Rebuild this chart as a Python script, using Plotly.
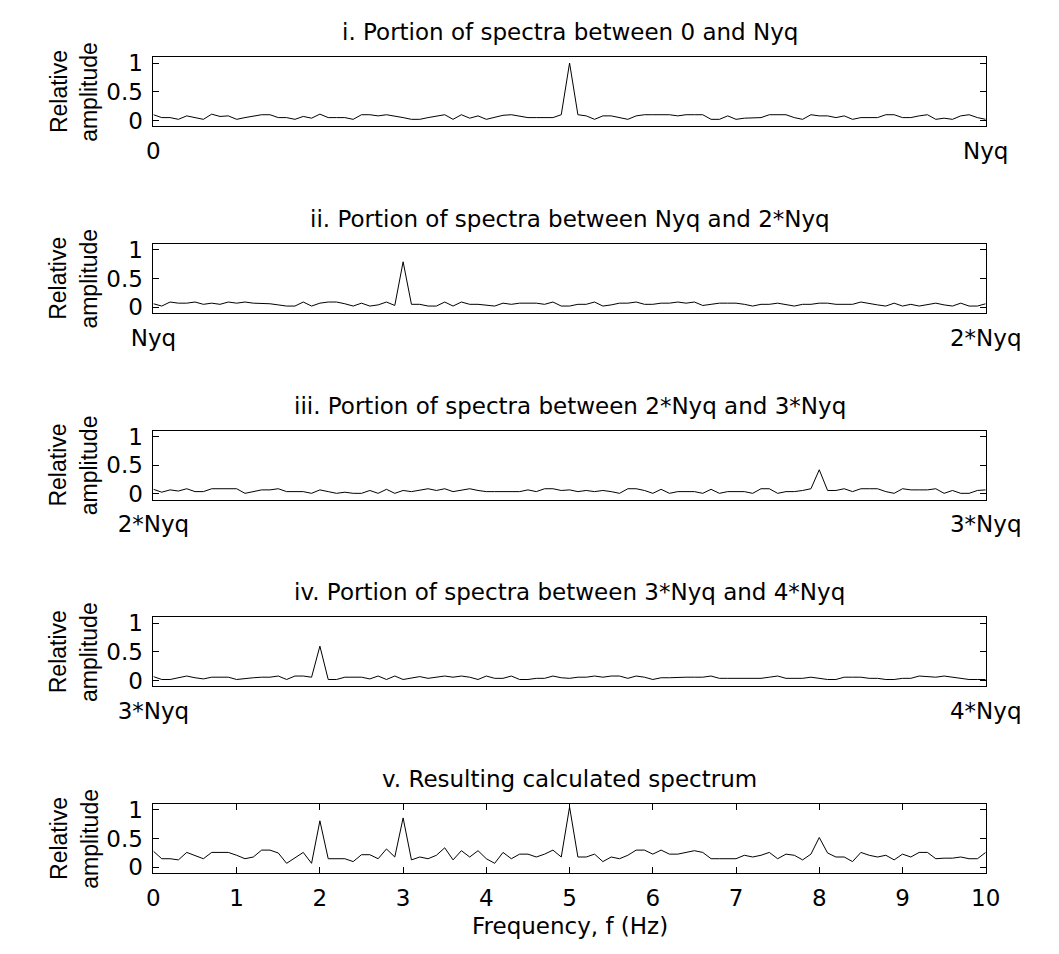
import plotly.graph_objects as go

# ---------------- data ----------------
FREQ_STEP = 0.1
freqs = [round(i * FREQ_STEP, 1) for i in range(101)]

panel_titles = [
    "i. Portion of spectra between 0 and Nyq",
    "ii. Portion of spectra between Nyq and 2*Nyq",
    "iii. Portion of spectra between 2*Nyq and 3*Nyq",
    "iv. Portion of spectra between 3*Nyq and 4*Nyq",
    "v. Resulting calculated spectrum",
]
x_tick_labels = [
    ["0", "Nyq"],
    ["Nyq", "2*Nyq"],
    ["2*Nyq", "3*Nyq"],
    ["3*Nyq", "4*Nyq"],
    ["0", "1", "2", "3", "4", "5", "6", "7", "8", "9", "10"],
]
y_tick_values = [0, 0.5, 1]
y_tick_labels = ["0", "0.5", "1"]
y_label_lines = ["Relative", "amplitude"]
x_label = "Frequency, f (Hz)"

spec_i = [0.10, 0.05, 0.05, 0.02, 0.08, 0.05, 0.02, 0.11, 0.07, 0.08,
          0.02, 0.05, 0.08, 0.10, 0.10, 0.05, 0.05, 0.02, 0.07, 0.04,
          0.11, 0.05, 0.05, 0.05, 0.02, 0.10, 0.10, 0.08, 0.10, 0.08,
          0.05, 0.02, 0.02, 0.05, 0.08, 0.10, 0.02, 0.10, 0.04, 0.08,
          0.02, 0.05, 0.09, 0.10, 0.07, 0.05, 0.05, 0.05, 0.05, 0.10,
          1.00, 0.10, 0.08, 0.02, 0.08, 0.08, 0.05, 0.02, 0.08, 0.10,
          0.10, 0.10, 0.10, 0.08, 0.10, 0.10, 0.10, 0.02, 0.02, 0.08,
          0.02, 0.04, 0.05, 0.05, 0.10, 0.10, 0.10, 0.05, 0.02, 0.10,
          0.08, 0.08, 0.05, 0.08, 0.02, 0.05, 0.05, 0.05, 0.10, 0.10,
          0.05, 0.05, 0.08, 0.10, 0.02, 0.04, 0.02, 0.08, 0.10, 0.05,
          0.02]

spec_ii = [0.06, 0.02, 0.09, 0.07, 0.07, 0.09, 0.05, 0.07, 0.05, 0.09,
           0.07, 0.09, 0.07, 0.07, 0.06, 0.04, 0.02, 0.02, 0.09, 0.02,
           0.07, 0.09, 0.09, 0.06, 0.02, 0.07, 0.02, 0.04, 0.09, 0.03,
           0.79, 0.05, 0.05, 0.02, 0.02, 0.09, 0.02, 0.09, 0.05, 0.05,
           0.04, 0.02, 0.07, 0.05, 0.07, 0.07, 0.07, 0.05, 0.09, 0.02,
           0.02, 0.05, 0.05, 0.09, 0.02, 0.04, 0.07, 0.07, 0.09, 0.05,
           0.05, 0.07, 0.07, 0.09, 0.07, 0.09, 0.03, 0.05, 0.07, 0.07,
           0.07, 0.05, 0.02, 0.05, 0.05, 0.07, 0.05, 0.02, 0.05, 0.05,
           0.07, 0.07, 0.05, 0.05, 0.05, 0.09, 0.06, 0.04, 0.02, 0.07,
           0.02, 0.05, 0.02, 0.05, 0.07, 0.04, 0.02, 0.07, 0.02, 0.02,
           0.06]

spec_iii = [0.08, 0.03, 0.07, 0.05, 0.09, 0.04, 0.04, 0.09, 0.09, 0.09,
            0.09, 0.01, 0.04, 0.07, 0.07, 0.09, 0.04, 0.04, 0.04, 0.01,
            0.07, 0.04, 0.01, 0.03, 0.01, 0.01, 0.06, 0.01, 0.08, 0.01,
            0.06, 0.04, 0.07, 0.09, 0.06, 0.09, 0.04, 0.06, 0.09, 0.06,
            0.04, 0.04, 0.04, 0.04, 0.04, 0.07, 0.04, 0.09, 0.09, 0.06,
            0.07, 0.04, 0.06, 0.04, 0.06, 0.04, 0.01, 0.09, 0.09, 0.06,
            0.01, 0.08, 0.01, 0.04, 0.04, 0.04, 0.01, 0.08, 0.01, 0.04,
            0.04, 0.04, 0.01, 0.09, 0.09, 0.01, 0.04, 0.04, 0.06, 0.09,
            0.42, 0.06, 0.06, 0.09, 0.04, 0.09, 0.09, 0.09, 0.04, 0.01,
            0.09, 0.07, 0.07, 0.07, 0.09, 0.01, 0.06, 0.01, 0.01, 0.06,
            0.07]

spec_iv = [0.07, 0.02, 0.02, 0.05, 0.08, 0.05, 0.03, 0.06, 0.06, 0.06,
           0.02, 0.04, 0.05, 0.06, 0.06, 0.08, 0.02, 0.08, 0.08, 0.06,
           0.60, 0.02, 0.02, 0.06, 0.06, 0.06, 0.03, 0.08, 0.02, 0.08,
           0.02, 0.05, 0.07, 0.04, 0.06, 0.08, 0.06, 0.08, 0.06, 0.02,
           0.08, 0.04, 0.04, 0.08, 0.02, 0.02, 0.04, 0.04, 0.08, 0.05,
           0.04, 0.06, 0.06, 0.08, 0.06, 0.08, 0.08, 0.04, 0.08, 0.06,
           0.02, 0.05, 0.05, 0.06, 0.06, 0.06, 0.06, 0.08, 0.04, 0.04,
           0.04, 0.04, 0.04, 0.04, 0.06, 0.08, 0.04, 0.04, 0.04, 0.06,
           0.04, 0.02, 0.02, 0.06, 0.06, 0.06, 0.04, 0.04, 0.02, 0.02,
           0.04, 0.04, 0.08, 0.07, 0.06, 0.08, 0.06, 0.04, 0.02, 0.02,
           0.02]

spec_v = [0.28, 0.15, 0.15, 0.13, 0.26, 0.21, 0.15, 0.26, 0.26, 0.26,
          0.21, 0.15, 0.18, 0.30, 0.30, 0.25, 0.07, 0.16, 0.26, 0.07,
          0.81, 0.15, 0.15, 0.15, 0.10, 0.22, 0.22, 0.15, 0.32, 0.18,
          0.86, 0.13, 0.18, 0.15, 0.21, 0.34, 0.13, 0.29, 0.18, 0.29,
          0.15, 0.07, 0.26, 0.15, 0.23, 0.23, 0.18, 0.23, 0.30, 0.18,
          1.05, 0.18, 0.18, 0.23, 0.10, 0.18, 0.15, 0.21, 0.30, 0.30,
          0.23, 0.30, 0.23, 0.23, 0.26, 0.29, 0.26, 0.15, 0.15, 0.15,
          0.15, 0.21, 0.18, 0.21, 0.26, 0.15, 0.23, 0.21, 0.13, 0.23,
          0.52, 0.25, 0.18, 0.18, 0.10, 0.26, 0.21, 0.18, 0.21, 0.13,
          0.23, 0.18, 0.26, 0.26, 0.15, 0.16, 0.16, 0.18, 0.15, 0.15,
          0.26]

panels = [spec_i, spec_ii, spec_iii, spec_iv, spec_v]

# ---------------- layout ----------------
W, H = 1059, 954
FONT = "DejaVu Sans, Arial, sans-serif"
FONT_V = "Liberation Sans, Arial, sans-serif"
FS = 23
x_left, x_right = 126, 1019
tops = [51, 240.5, 430, 619.5, 809]
ph = 70
ylabel_x = [24, 57]

fig = go.Figure()
layout = dict(
    width=W, height=H,
    margin=dict(l=0, r=0, t=0, b=0),
    paper_bgcolor="white", plot_bgcolor="white",
    showlegend=False,
    font=dict(family=FONT, size=FS, color="black"),
    annotations=[],
)

xdom = [x_left / W, x_right / W]
for k, (vals, title, xt) in enumerate(zip(panels, panel_titles, x_tick_labels)):
    n = k + 1
    sfx = "" if n == 1 else str(n)
    top, bot = tops[k], tops[k] + ph
    ydom = [1 - bot / H, 1 - top / H]
    fig.add_trace(go.Scatter(
        x=freqs, y=vals, mode="lines",
        line=dict(color="black", width=1),
        xaxis="x" + sfx, yaxis="y" + sfx, hoverinfo="skip",
    ))
    xtv = [0, 10] if len(xt) == 2 else list(range(11))
    layout["xaxis" + sfx] = dict(
        domain=xdom, range=[0, 10], anchor="y" + sfx,
        showline=True, linecolor="black", linewidth=1, mirror="ticks",
        ticks="inside", ticklen=6, tickcolor="black", tickwidth=1,
        tickvals=xtv, ticktext=xt, showgrid=False, zeroline=False,
        ticklabelstandoff=4,
        tickfont=dict(family=FONT, size=FS, color="black"),
    )
    layout["yaxis" + sfx] = dict(
        domain=ydom, range=[-0.1, 1.1], anchor="x" + sfx,
        showline=True, linecolor="black", linewidth=1, mirror="ticks",
        ticks="inside", ticklen=6, tickcolor="black", tickwidth=1,
        tickvals=y_tick_values, ticktext=y_tick_labels,
        showgrid=False, zeroline=False, ticklabelstandoff=5,
        tickfont=dict(family=FONT, size=FS, color="black"),
    )
    layout["annotations"].append(dict(
        text=title, xref="paper", yref="paper",
        x=(xdom[0] + xdom[1]) / 2, y=ydom[1],
        xanchor="center", yanchor="bottom", yshift=10, showarrow=False,
        font=dict(family=FONT, size=FS, color="black"),
    ))
    for line_txt, lx in zip(y_label_lines, ylabel_x):
        layout["annotations"].append(dict(
            text=line_txt, xref="paper", yref="paper",
            x=lx / W, y=(ydom[0] + ydom[1]) / 2, textangle=-90,
            xanchor="center", yanchor="middle", showarrow=False,
            font=dict(family=FONT_V, size=FS, color="black"),
        ))

layout["annotations"].append(dict(
    text=x_label, xref="paper", yref="paper",
    x=(xdom[0] + xdom[1]) / 2, y=1 - (tops[4] + ph) / H,
    xanchor="center", yanchor="middle", yshift=-53, showarrow=False,
    font=dict(family=FONT, size=FS, color="black"),
))

fig.update_layout(**layout)
fig.write_html("out.html")
